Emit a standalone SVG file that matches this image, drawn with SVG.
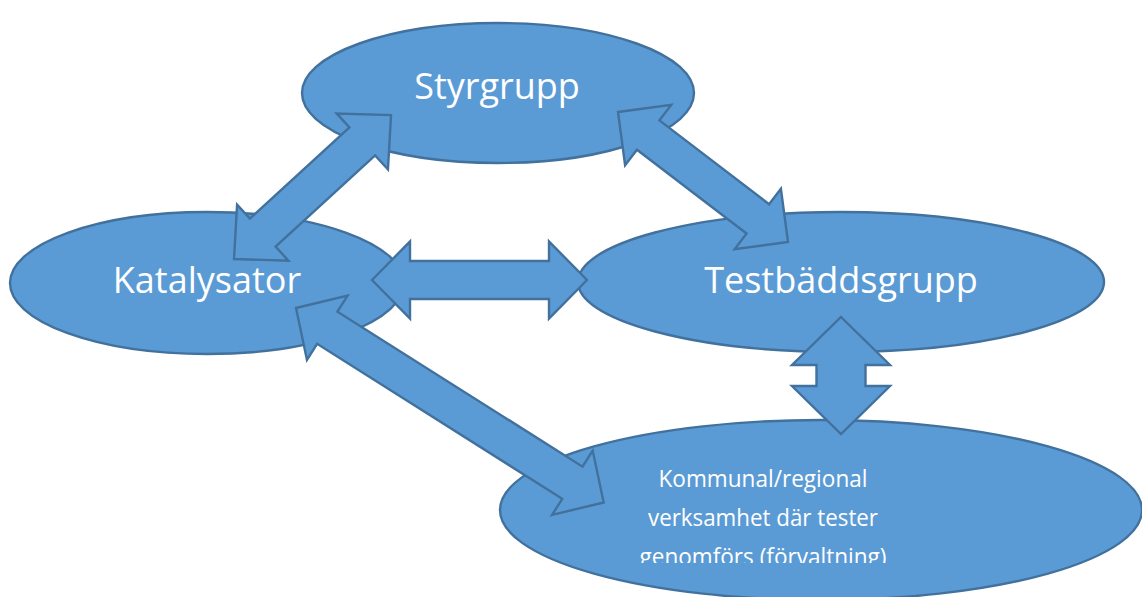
<svg xmlns="http://www.w3.org/2000/svg" width="1142" height="597" viewBox="0 0 1142 597">
<style>
.shape{fill:#5B9BD5;stroke:#41719C;stroke-width:2.4;stroke-linejoin:miter}
.lbl{fill:#FFFFFF;font-family:"Open Sans","Noto Sans",sans-serif;text-anchor:middle}
.big{font-size:36px}
.small{font-size:24px}
</style>
<defs>
<clipPath id="clipText"><rect x="500" y="420" width="642" height="143"/></clipPath>
</defs>
<rect width="1142" height="597" fill="#FFFFFF"/>
<g id="node-styrgrupp">
<ellipse class="shape" cx="498" cy="93" rx="196" ry="70"/>
<text class="lbl big" x="497" y="99">Styrgrupp</text>
</g>
<g id="node-katalysator">
<ellipse class="shape" cx="207" cy="283" rx="197" ry="71"/>
<text class="lbl big" x="207" y="293">Katalysator</text>
</g>
<g id="node-testbaddsgrupp">
<ellipse class="shape" cx="841" cy="282" rx="263" ry="70"/>
<text class="lbl big" x="841" y="293">Testbäddsgrupp</text>
</g>
<g id="node-kommunal">
<ellipse class="shape" cx="821" cy="510" rx="321" ry="90"/>
<g clip-path="url(#clipText)">
<text class="lbl small" x="763" y="487" textLength="209" lengthAdjust="spacingAndGlyphs">Kommunal/regional</text>
<text class="lbl small" x="763" y="526" textLength="230" lengthAdjust="spacingAndGlyphs">verksamhet där tester</text>
<text class="lbl small" x="763" y="565" textLength="247" lengthAdjust="spacingAndGlyphs">genomförs (förvaltning)</text>
</g>
</g>
<g id="connectors">
<polygon class="shape" transform="translate(234,259) rotate(-42.5)" points="0,0 39,-38 39,-19 174,-19 174,-38 213,0 174,38 174,19 39,19 39,38"/>
<polygon class="shape" transform="translate(618,112) rotate(37.4)" points="0,0 38,-38 38,-18.5 176,-18.5 176,-38 214,0 176,38 176,18.5 38,18.5 38,38"/>
<polygon class="shape" transform="translate(296,308) rotate(32.3)" points="0,0 37,-38 37,-19 327,-19 327,-38 364,0 327,38 327,19 37,19 37,38"/>
<polygon class="shape" transform="translate(372,280)" points="0,0 38,-38.5 38,-19 177,-19 177,-38.5 215,0 177,38.5 177,19 38,19 38,38.5"/>
<polygon class="shape" transform="translate(841,317) rotate(90)" points="0,0 48,-49 48,-24.5 69,-24.5 69,-49 117,0 69,49 69,24.5 48,24.5 48,49"/>
</g>
</svg>
